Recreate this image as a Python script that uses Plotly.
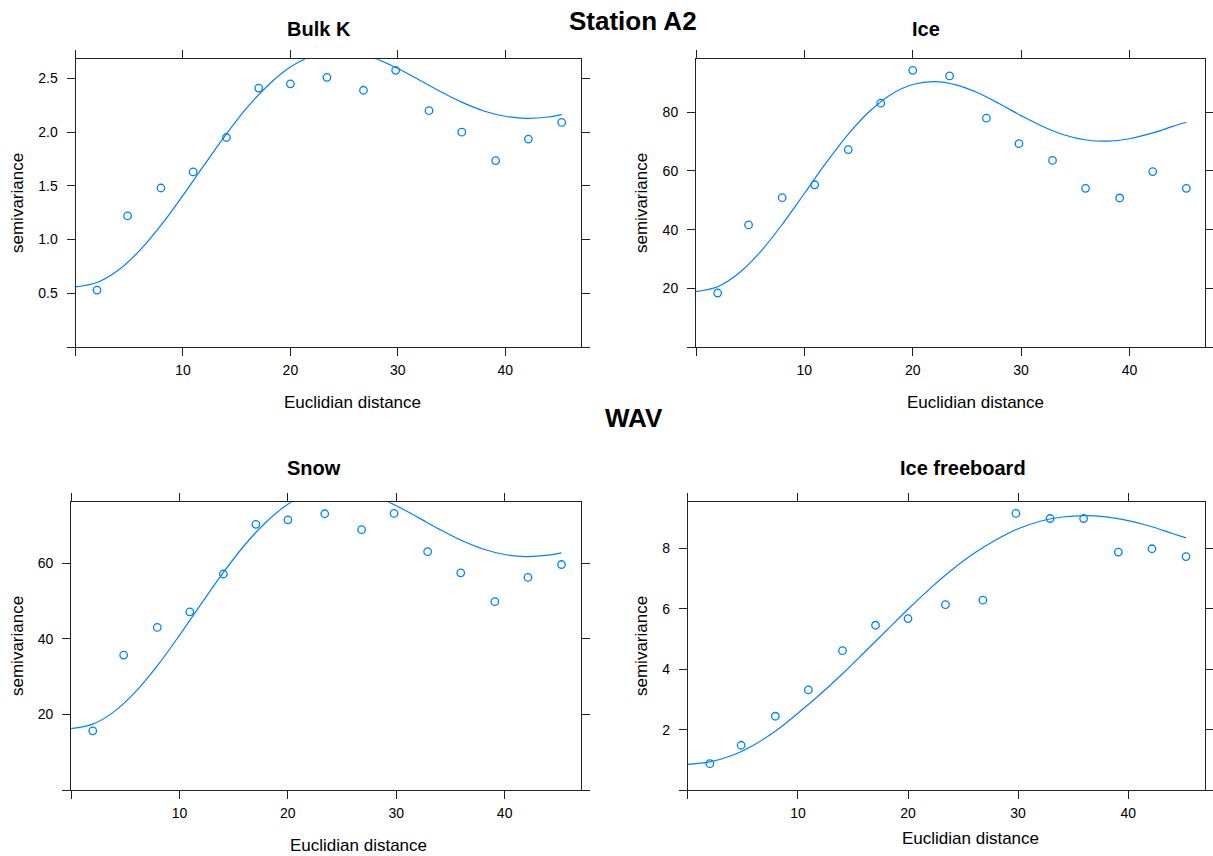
import plotly.graph_objects as go

# Lag distances of the empirical variogram bins (shared by all four variables)
dist = [2.0, 4.85, 7.95, 10.95, 14.05, 17.05, 20.0, 23.4, 26.8, 29.8, 32.9, 35.95, 39.1, 42.15, 45.25]

# Empirical semivariances
gamma_bulk_k = [0.53, 1.22, 1.48, 1.63, 1.95, 2.41, 2.45, 2.51, 2.39, 2.575, 2.20, 2.00, 1.735, 1.935, 2.09]
gamma_ice = [18.4, 41.6, 50.9, 55.3, 67.3, 83.1, 94.3, 92.4, 78.0, 69.3, 63.6, 54.1, 50.8, 59.8, 54.1]
gamma_snow = [15.7, 35.7, 43.0, 47.1, 57.1, 70.2, 71.4, 73.0, 68.8, 73.1, 63.0, 57.4, 49.8, 56.2, 59.6]
gamma_freeboard = [0.88, 1.49, 2.45, 3.32, 4.62, 5.46, 5.68, 6.14, 6.29, 9.16, 8.99, 8.99, 7.88, 7.99, 7.73]

# Fitted wave-model curves, sampled along the distance axis
model_dist = [0, 2, 4, 6, 8, 10, 12, 14, 16, 18, 20, 22, 24, 26, 28, 30, 32, 34, 36, 38, 40, 42, 44, 45.25]
model_bulk_k = [0.560, 0.600, 0.716, 0.901, 1.138, 1.411, 1.697, 1.977, 2.232, 2.444, 2.606, 2.708,
                2.749, 2.737, 2.681, 2.592, 2.486, 2.376, 2.277, 2.197, 2.148, 2.129, 2.141, 2.163]
model_ice = [18.9, 20.53, 25.29, 32.69, 42.0, 52.33, 62.73, 72.31, 80.26, 86.1, 89.48, 90.48,
             89.36, 86.65, 82.93, 78.87, 75.17, 72.26, 70.57, 70.17, 70.99, 72.81, 75.21, 76.6]
model_snow = [16.3, 17.46, 20.83, 26.16, 33.04, 40.92, 49.21, 57.30, 64.69, 70.84, 75.51, 78.46,
              79.67, 79.33, 77.70, 75.13, 72.05, 68.87, 65.99, 63.69, 62.25, 61.71, 62.07, 62.69]
model_freeboard = [0.86, 0.94, 1.15, 1.50, 1.97, 2.55, 3.17, 3.84, 4.55, 5.27, 5.99, 6.672,
                   7.293, 7.837, 8.290, 8.651, 8.900, 9.04, 9.088, 9.044, 8.920, 8.735, 8.494, 8.35]

x_ticks = [0, 10, 20, 30, 40]
x_ticktext = ["", "10", "20", "30", "40"]

panels = [
    # name, points, curve, y tick values, y tick labels
    ("Bulk K", gamma_bulk_k, model_bulk_k, [0, 0.5, 1.0, 1.5, 2.0, 2.5], ["", "0.5", "1.0", "1.5", "2.0", "2.5"]),
    ("Ice", gamma_ice, model_ice, [0, 20, 40, 60, 80], ["", "20", "40", "60", "80"]),
    ("Snow", gamma_snow, model_snow, [0, 20, 40, 60], ["", "20", "40", "60"]),
    ("Ice freeboard", gamma_freeboard, model_freeboard, [0, 2, 4, 6, 8], ["", "2", "4", "6", "8"]),
]

W, H = 1213, 856
BLUE = "#0080ff"
AXIS = "#222222"
FONT = "Liberation Sans, Arial, sans-serif"

# Plot-area boxes in pixels: left, right, top, bottom
boxes = [
    (75.5, 580.5, 59.3, 347.0),
    (696.0, 1205.3, 59.3, 347.0),
    (71.1, 580.5, 502.3, 790.3),
    (687.8, 1205.3, 502.3, 790.3),
]

# Text positions in pixels
title_pos = [(319, 29), (926, 29), (314, 38 + 430), (963, 38 + 430)]
xlab_pos = [(352, 402), (975, 402), (358, 845), (970, 838)]
ylab_pos = [(17, 203), (641, 203), (17, 646), (641, 646)]


def px(x):
    return x / W


def py(y):
    return 1 - y / H


fig = go.Figure()
annotations = []

for i, (name, pts, curve, yt, ytt) in enumerate(panels):
    k = "" if i == 0 else str(i + 1)
    xa, ya = "x" + k, "y" + k
    fig.add_trace(go.Scatter(
        x=model_dist, y=curve, mode="lines", xaxis=xa, yaxis=ya,
        line=dict(color=BLUE, width=1.2, shape="spline"), hoverinfo="skip", showlegend=False,
    ))
    fig.add_trace(go.Scatter(
        x=dist, y=pts, mode="markers", xaxis=xa, yaxis=ya,
        marker=dict(symbol="circle-open", size=7.5, color=BLUE, line=dict(width=1.3, color=BLUE)),
        showlegend=False,
    ))
    l, r, t, b = boxes[i]
    common = dict(
        showline=True, linecolor=AXIS, linewidth=1, mirror="allticks",
        ticks="outside", ticklen=8, tickwidth=1, tickcolor=AXIS,
        showgrid=False, zeroline=False,
        tickfont=dict(family=FONT, size=14, color="black"),
    )
    fig.update_layout(**{
        "xaxis" + k: dict(domain=[px(l), px(r)], anchor=ya, range=[0, 47],
                          tickvals=x_ticks, ticktext=x_ticktext, ticklabelstandoff=2, **common),
        "yaxis" + k: dict(domain=[py(b), py(t)], anchor=xa, range=[0, 1.04 * max(pts)],
                          tickvals=yt, ticktext=ytt, ticklabelstandoff=6, **common),
    })
    tx, ty = title_pos[i]
    annotations.append(dict(text="<b>%s</b>" % name, x=px(tx), y=py(ty), xref="paper", yref="paper",
                            showarrow=False, xanchor="center", yanchor="middle",
                            font=dict(family=FONT, size=20, color="black")))
    lx, ly = xlab_pos[i]
    annotations.append(dict(text="Euclidian distance", x=px(lx), y=py(ly), xref="paper", yref="paper",
                            showarrow=False, xanchor="center", yanchor="middle",
                            font=dict(family=FONT, size=17, color="black")))
    vx, vy = ylab_pos[i]
    annotations.append(dict(text="semivariance", x=px(vx), y=py(vy), xref="paper", yref="paper",
                            showarrow=False, xanchor="center", yanchor="middle", textangle=-90,
                            font=dict(family=FONT, size=17, color="black")))

annotations.append(dict(text="<b>Station A2</b>", x=px(633), y=py(21), xref="paper", yref="paper",
                        showarrow=False, xanchor="center", yanchor="middle",
                        font=dict(family=FONT, size=26, color="black")))
annotations.append(dict(text="<b>WAV</b>", x=px(633.5), y=py(418), xref="paper", yref="paper",
                        showarrow=False, xanchor="center", yanchor="middle",
                        font=dict(family=FONT, size=26, color="black")))

fig.update_layout(
    width=W, height=H,
    margin=dict(l=0, r=0, t=0, b=0),
    paper_bgcolor="white", plot_bgcolor="white",
    annotations=annotations,
    showlegend=False,
)

fig.write_html("out.html")
